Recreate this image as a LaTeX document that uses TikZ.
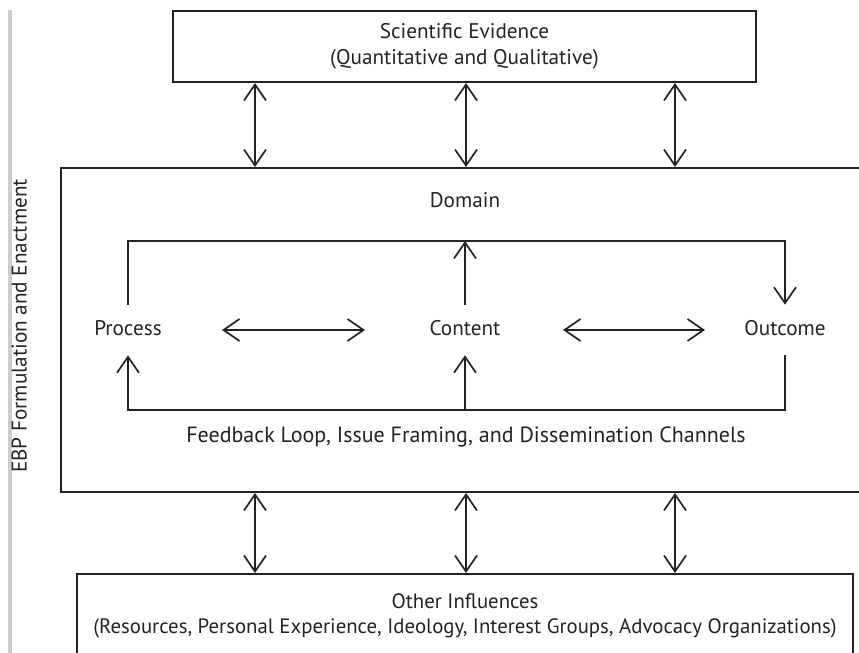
\documentclass[tikz,border=0pt]{standalone}
\usepackage{fontspec}
\setmainfont{PT Sans}
\usepackage{tikz}
\usetikzlibrary{arrows.meta,positioning,calc}
\definecolor{inkgray}{RGB}{35,35,35}
\definecolor{bargray}{RGB}{205,205,205}

\begin{document}
\begin{tikzpicture}[x=0.5pt,y=-0.5pt,
    box/.style={draw=inkgray,line width=1pt,rectangle,inner sep=0pt,align=center,
      text=inkgray,font=\fontsize{10.6}{13}\selectfont},
    lbl/.style={text=inkgray,font=\fontsize{10.6}{12}\selectfont,
      text height=7.7pt,text depth=2.2pt,inner xsep=2pt,inner ysep=7.5pt},
    link/.style={draw=inkgray,line width=0.85pt},
    tip/.style={-{Straight Barb[length=8pt,width=11pt,line width=0.85pt]}},
    dbl/.style={{Straight Barb[length=8pt,width=11pt,line width=0.85pt]}-{Straight Barb[length=8pt,width=11pt,line width=0.85pt]}}]
    \useasboundingbox (0,0) rectangle (859,653);
    \clip (0,0) rectangle (859,653);
    % Barra lateral y titulo vertical
    \fill[bargray] (8,10) rectangle (12,653);
    \node[lbl,rotate=90] (ebp) at (21,326) {EBP Formulation and Enactment};
    % Cajas principales
    \node[box,minimum width=291.5pt,minimum height=35.5pt] (evidence) at (464.5,46.5)
      {Scientific Evidence\\(Quantitative and Qualitative)};
    \node[box,minimum width=409.5pt,minimum height=162pt] (domain) at (470.5,330) {};
    \node[box,minimum width=388pt,minimum height=41.5pt,font=\fontsize{10.4}{12.6}\selectfont]
      (influences) at (465,615.5)
      {Other Influences\\(Resources, Personal Experience, Ideology, Interest Groups, Advocacy Organizations)};
    % Flechas entre cajas
    \foreach \x in {255,466,675}{
      \draw[link,dbl] (\x,0 |- evidence.south) -- (\x,0 |- domain.north);
      \draw[link,dbl] (\x,0 |- domain.south) -- (\x,0 |- influences.north);
    }
    % Etiquetas del dominio
    \node[lbl] (domainlbl) at (465,202) {Domain};
    \node[lbl] (process) at (128,330) {Process};
    \node[lbl] (content) at (465,330) {Content};
    \node[lbl] (outcome) at (785,330) {Outcome};
    \node[lbl,font=\fontsize{11}{12}\selectfont] (feedback) at (466,437)
      {Feedback Loop, Issue Framing, and Dissemination Channels};
    \draw[link,dbl] (222,0 |- process) -- (365,0 |- content);
    \draw[link,dbl] (563,0 |- content) -- (705,0 |- outcome);
    % Lazo superior
    \coordinate (looptop) at (0,241);
    \draw[link,tip] (process.north) -- (process.north |- looptop) -| (outcome.north);
    \draw[link,tip] (content.north) -- (content.north |- looptop);
    % Lazo inferior (retroalimentacion)
    \coordinate (loopbot) at (0,410);
    \draw[link,tip] (outcome.south) -- (outcome.south |- loopbot) -| (process.south);
    \draw[link,tip] (content.south |- loopbot) -- (content.south);
  \end{tikzpicture}
\end{document}
